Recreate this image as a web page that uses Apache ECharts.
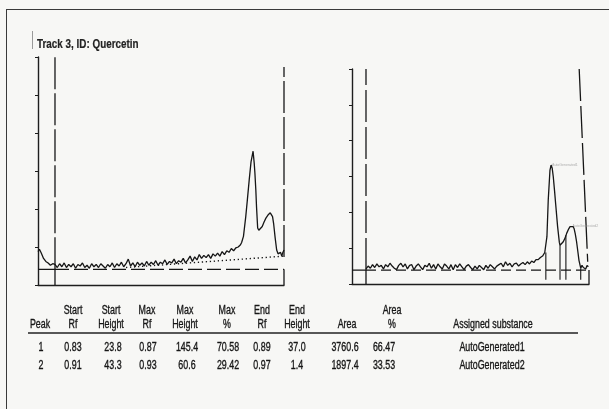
<!DOCTYPE html>
<html><head><meta charset="utf-8">
<script src="https://cdn.jsdelivr.net/npm/echarts@6.0.0/dist/echarts.min.js"></script>
<style>
html,body{margin:0;padding:0;background:#f7f7f5;overflow:hidden;}
#c{position:absolute;left:0;top:0;width:609px;height:409px;}
.frame{position:absolute;left:6px;top:9px;right:-4px;bottom:-4px;border-left:1.5px solid #3a3a3a;border-top:1.5px solid #3a3a3a;pointer-events:none;}
.bar{position:absolute;left:32px;top:31px;width:1px;height:18px;background:#9a9a9a;}
</style>
</head><body>
<div id="c"></div><div class="frame"></div><div class="bar"></div>
<script>
// ---------- data ----------
const titleText = 'Track 3, ID: Quercetin';

// left panel: raw densitogram [Rf, AU]
const leftTrace = [
[-0.074,44],[-0.068,47],[-0.06,42],[-0.05,35],[-0.04,31],[-0.03,29],[-0.02,26],[-0.01,28],
[0.00,27],[0.01,23],[0.02,28],[0.03,24],[0.04,29],[0.05,23],[0.06,27],[0.07,24],[0.08,28],[0.09,22],
[0.10,27],[0.11,25],[0.12,29],[0.13,23],[0.14,26],[0.15,22],[0.16,28],[0.17,24],[0.18,27],[0.19,23],
[0.20,28],[0.21,25],[0.22,22],[0.23,27],[0.24,24],[0.25,29],[0.26,23],[0.27,28],[0.28,25],[0.29,30],
[0.30,24],[0.31,28],[0.32,34],[0.33,25],[0.34,29],[0.35,24],[0.36,30],[0.37,26],[0.38,29],[0.39,25],
[0.40,31],[0.41,26],[0.42,30],[0.43,27],[0.44,32],[0.45,26],[0.46,30],[0.47,28],[0.48,33],[0.49,27],
[0.50,31],[0.51,29],[0.52,34],[0.53,28],[0.54,32],[0.55,30],[0.56,35],[0.57,29],[0.58,33],[0.59,38],
[0.60,31],[0.61,37],[0.62,33],[0.63,40],[0.64,35],[0.65,39],[0.66,36],[0.67,40],[0.68,35],[0.69,41],
[0.70,38],[0.71,42],[0.72,38],[0.73,44],[0.74,40],[0.75,45],[0.76,43],[0.77,48],[0.78,45],[0.79,49],
[0.80,50],[0.81,53],[0.815,56],[0.823,64],[0.833,90],[0.840,112],[0.848,138],[0.856,162],[0.865,176],
[0.870,160],[0.873,147],[0.877,125],[0.880,103],[0.885,75],[0.890,72],[0.896,71],[0.905,77],[0.913,83],
[0.921,88],[0.930,92],[0.940,95],[0.946,93],[0.950,90],[0.955,80],[0.961,63],[0.968,46],[0.974,41],
[0.979,39],[0.985,43],[0.990,38],[0.994,42],[1.000,46]
];
const leftBaseline = [[0.31,23],[1.0,38]];      // dotted baseline
const leftZeroLevel = 20.6;                      // dashed horizontal level
const leftTrackStart = 0, leftTrackEnd = 1.0;    // dashed verticals (Rf)
const leftEndTop = 287, leftEndBottom = 37;

// right panel: baseline-corrected densitogram [Rf, AU]
const rightTrace = [
[0.00,21],[0.01,25],[0.02,22],[0.03,27],[0.04,23],[0.05,28],[0.06,24],[0.07,26],[0.08,21],[0.09,27],
[0.10,24],[0.11,29],[0.12,25],[0.13,22],[0.14,20],[0.15,26],[0.16,29],[0.17,24],[0.18,28],[0.19,21],
[0.20,26],[0.21,27],[0.22,20],[0.23,25],[0.24,28],[0.25,24],[0.26,20],[0.27,26],[0.28,24],[0.29,29],
[0.30,22],[0.31,27],[0.32,21],[0.33,28],[0.34,24],[0.35,21],[0.36,28],[0.37,25],[0.38,21],[0.39,27],
[0.40,20],[0.41,27],[0.42,23],[0.43,28],[0.44,24],[0.45,20],[0.46,25],[0.47,27],[0.48,23],[0.49,20],
[0.50,25],[0.51,21],[0.52,26],[0.53,23],[0.54,20],[0.55,26],[0.56,22],[0.57,27],[0.58,24],[0.59,21],
[0.60,25],[0.61,27],[0.62,29],[0.63,24],[0.64,31],[0.65,26],[0.66,29],[0.67,24],[0.68,28],[0.69,29],
[0.70,25],[0.71,28],[0.72,30],[0.73,27],[0.74,31],[0.75,28],[0.76,32],[0.77,30],[0.78,34],[0.79,34],
[0.80,37],[0.81,39],[0.82,44],[0.825,46],[0.83,66],[0.836,117],[0.844,159],[0.849,166],[0.854,162],
[0.859,150],[0.865,130],[0.870,112],[0.879,80],[0.887,58],[0.890,54],[0.895,55],[0.905,59],[0.913,64],
[0.921,71],[0.930,77],[0.936,80],[0.943,81],[0.950,80],[0.955,77],[0.960,70],[0.966,59],[0.972,45],
[0.977,33],[0.985,22],[0.991,26],[0.997,23],[1.003,25],[1.008,21],[1.014,26],[1.020,24]
];
const rightZeroLevel = 19.5;
const rightTrackStart = 0;
const rightEndLine = [[0.978,300],[1.017,31]];          // slanted dashed end line
const rightBoundRf = [0.825, 0.890, 0.917, 0.985];      // peak start / end markers
const rightBoundTop = [44, 54, 68, 22];
const rightBoundBottom = 6;
const rightPeakTops = [[0.849,166],[0.943,81]];

// results table
const headerTop = ['', 'Start', 'Start', 'Max', 'Max', 'Max', 'End', 'End', '', 'Area', ''];
const headerBottom = ['Peak', 'Rf', 'Height', 'Rf', 'Height', '%', 'Rf', 'Height', 'Area', '%', 'Assigned substance'];
const peakNo = [1, 2];
const startRf = [0.83, 0.91];
const startHeight = [23.8, 43.3];
const maxRf = [0.87, 0.93];
const maxHeight = [145.4, 60.6];
const maxPct = [70.58, 29.42];
const endRf = [0.89, 0.97];
const endHeight = [37.0, 1.4];
const area = [3760.6, 1897.4];
const areaPct = [66.47, 33.53];
const substance = ['AutoGenerated1', 'AutoGenerated2'];

// ---------- layout / style ----------
const FONT = '"Liberation Sans", Arial, sans-serif';
const INK = '#161616';
const colHeadX = [40, 73, 111, 147, 185, 227, 262, 297, 347, 392, 493];
const colValX  = [41, 73, 113, 148, 187, 228, 262, 297, 345, 384, 492];
const decimals = [0, 2, 1, 2, 1, 2, 2, 1, 1, 2, -1];
const headY1 = 311, headY2 = 325, ruleY = 333, rowY = [348, 366];
const NARROW = 0.71;

const columns = [peakNo, startRf, startHeight, maxRf, maxHeight, maxPct, endRf, endHeight, area, areaPct, substance];

function txt(s, x, y, opt) {
  opt = opt || {};
  return { type: 'text', silent: true, x: x, y: y, scaleX: opt.scaleX || NARROW, scaleY: 1,
    style: { text: s, x: 0, y: 0,
      align: opt.align || 'center', verticalAlign: 'middle',
      textAlign: opt.align || 'center', textVerticalAlign: 'middle',
      font: (opt.weight || 'normal') + ' ' + (opt.size || 12.5) + 'px ' + FONT,
      fill: opt.color || INK, stroke: opt.color || INK, lineWidth: opt.stroke != null ? opt.stroke : 0.35 } };
}
const graphics = [];
graphics.push(txt(titleText, 37, 44, { align: 'left', weight: 'bold', size: 13, scaleX: 0.76, color: '#222', stroke: 0.2 }));
headerTop.forEach((h, i) => { if (h) graphics.push(txt(h, colHeadX[i], headY1)); });
headerBottom.forEach((h, i) => graphics.push(txt(h, colHeadX[i], headY2)));
columns.forEach((col, i) => col.forEach((v, r) => {
  const s = decimals[i] >= 0 ? Number(v).toFixed(decimals[i]) : v;
  graphics.push(txt(s, colValX[i], rowY[r]));
}));
graphics.push({ type: 'line', silent: true, shape: { x1: 28, y1: ruleY, x2: 578, y2: ruleY },
  style: { stroke: '#222', lineWidth: 1.4 } });

function line(data, ax, opts) {
  opts = opts || {};
  return { type: 'line', data: data, xAxisIndex: ax, yAxisIndex: ax, showSymbol: false, symbol: 'none',
    silent: true, animation: false, z: opts.z || 2,
    lineStyle: { color: opts.color || INK, width: opts.width || 1.3, type: opts.type || 'solid' } };
}

const L = 0, R = 1;
const lMin = -0.0742, lMax = 1.0, rMin = -0.0642, rMax = 1.023;
const series = [
  // left panel
  line([[leftTrackStart, leftZeroLevel], [lMax, leftZeroLevel]], L, { type: [14, 5] }),
  line([[lMin, leftZeroLevel], [leftTrackStart, leftZeroLevel], [leftTrackStart, 0]], L),
  line([[lMax, leftZeroLevel], [lMax, 0]], L),
  line([[leftTrackStart, leftZeroLevel], [leftTrackStart, 300]], L, { type: [32, 4] }),
  line([[leftTrackEnd, leftEndBottom], [leftTrackEnd, leftEndTop]], L, { type: [32, 4] }),
  line(leftBaseline, L, { type: [1.3, 2.7], width: 1.4 }),
  line(leftTrace, L, { width: 1.3, z: 3 }),
  // right panel
  line([[rightTrackStart, rightZeroLevel], [rMax, rightZeroLevel]], R, { type: [10, 5] }),
  line([[rMin, rightZeroLevel], [rightTrackStart, rightZeroLevel], [rightTrackStart, 0]], R),
  line([[rMax, rightZeroLevel], [rMax, 0]], R),
  line([[rightTrackStart, rightZeroLevel], [rightTrackStart, 300]], R, { type: [32, 5] }),
  line(rightEndLine, R, { type: [32, 5] }),
  line(rightTrace, R, { width: 1.3, z: 3 })
];
rightBoundRf.forEach((rf, i) => series.push(line([[rf, rightBoundBottom], [rf, rightBoundTop[i]]], R, { width: 1.1 })));
series.push({ type: 'scatter', xAxisIndex: R, yAxisIndex: R, symbolSize: 0, silent: true, animation: false,
  data: rightPeakTops.map((p, i) => ({ value: p, name: substance[i] })),
  label: { show: true, position: 'right', distance: 1, formatter: p => p.name,
    fontSize: 3.5, color: '#9a9a9a', fontFamily: FONT } });

function yAx(grid) {
  return { type: 'value', gridIndex: grid, min: 0, max: 300, interval: 50,
    axisLine: { show: true, onZero: false, lineStyle: { color: '#1e1e1e', width: 1.4 } },
    axisTick: { show: true, inside: false, length: 3, lineStyle: { color: '#1e1e1e', width: 1 } },
    axisLabel: { show: false }, splitLine: { show: false } };
}
function xAx(grid, mn, mx) {
  return { type: 'value', gridIndex: grid, min: mn, max: mx,
    axisLine: { show: true, onZero: false, lineStyle: { color: '#1e1e1e', width: 1.4 } },
    axisTick: { show: false }, axisLabel: { show: false }, splitLine: { show: false } };
}

const chart = echarts.init(document.getElementById('c'), null, { renderer: 'canvas' });
chart.setOption({
  backgroundColor: 'transparent',
  animation: false,
  grid: [
    { left: 38, top: 57, width: 246, height: 228, containLabel: false, outerBoundsMode: 'none' },
    { left: 352, top: 69, width: 237, height: 215, containLabel: false, outerBoundsMode: 'none' }
  ],
  xAxis: [xAx(0, lMin, lMax), xAx(1, rMin, rMax)],
  yAxis: [yAx(0), yAx(1)],
  series: series,
  graphic: graphics
});
</script>
</body></html>
